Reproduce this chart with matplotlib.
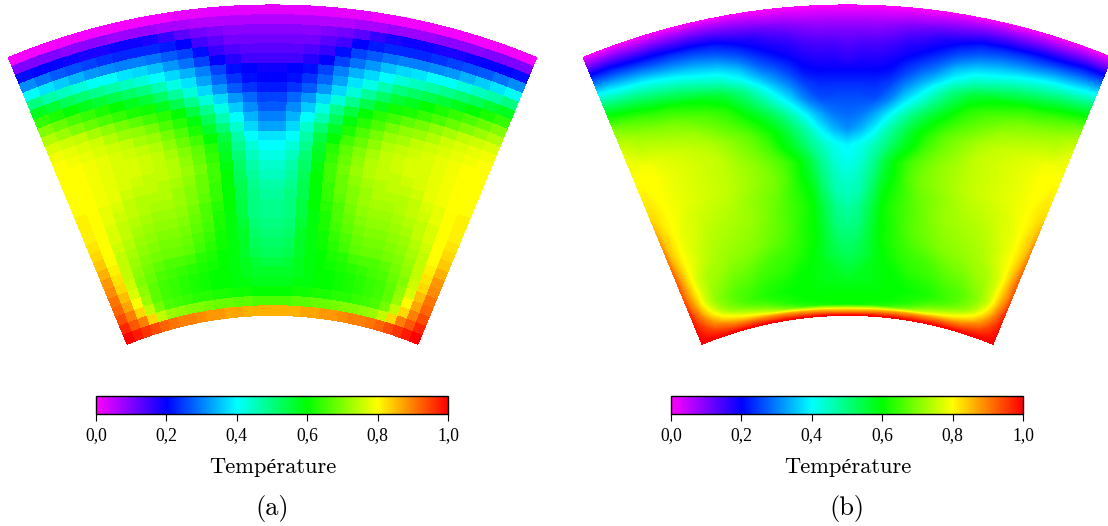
import numpy as np
import matplotlib
matplotlib.use("Agg")
import matplotlib.pyplot as plt
from matplotlib.cm import ScalarMappable
from matplotlib.colors import LinearSegmentedColormap, Normalize

# Colormap anchors
cmap_values = [0.0, 0.2, 0.4, 0.6, 0.8, 1.0]
cmap_colors = ["#ff00ff", "#0000ff", "#00ffff", "#00ff00", "#ffff00", "#ff0000"]

tick_values = [0.0, 0.2, 0.4, 0.6, 0.8, 1.0]
tick_labels = ["0,0", "0,2", "0,4", "0,6", "0,8", "1,0"]
bar_label = "Température"
panel_labels = ["(a)", "(b)"]

# Coarse field (a): one row per radial cell from the outer wall,
# one column per angular cell from the side wall to the symmetry line
coarse_half = [
    [.01, .01, .01, .01, .01, .01, .01, .01, .01, .01, .02, .02, .02, .02, .02, .02],
    [.10, .10, .10, .09, .09, .09, .08, .08, .08, .07, .07, .06, .06, .06, .06, .06],
    [.21, .20, .20, .19, .18, .18, .19, .19, .18, .16, .13, .11, .10, .09, .09, .09],
    [.31, .29, .27, .26, .25, .24, .23, .23, .23, .22, .20, .15, .13, .11, .11, .11],
    [.41, .38, .36, .34, .32, .31, .30, .30, .29, .27, .25, .21, .16, .14, .13, .13],
    [.50, .47, .45, .43, .41, .40, .38, .37, .35, .32, .29, .25, .20, .17, .15, .15],
    [.58, .56, .53, .51, .49, .47, .45, .43, .40, .37, .34, .30, .25, .21, .20, .19],
    [.64, .62, .60, .58, .56, .54, .52, .50, .46, .42, .38, .33, .28, .24, .21, .20],
    [.70, .68, .66, .64, .62, .60, .58, .56, .52, .48, .43, .37, .32, .27, .24, .22],
    [.74, .72, .70, .68, .66, .64, .62, .61, .58, .54, .49, .43, .37, .32, .28, .25],
    [.77, .76, .75, .73, .71, .69, .67, .65, .63, .60, .55, .49, .42, .36, .31, .27],
    [.79, .78, .77, .76, .74, .72, .71, .69, .66, .63, .59, .53, .46, .40, .34, .30],
    [.80, .79, .78, .77, .76, .75, .73, .72, .69, .66, .62, .57, .51, .44, .37, .33],
    [.80, .80, .79, .78, .77, .76, .75, .74, .71, .68, .65, .60, .55, .47, .40, .38],
    [.80, .80, .79, .78, .77, .77, .76, .75, .73, .70, .67, .63, .57, .49, .43, .40],
    [.80, .80, .79, .78, .77, .77, .76, .75, .74, .71, .68, .64, .58, .51, .45, .42],
    [.80, .80, .79, .78, .77, .76, .75, .75, .74, .72, .69, .65, .59, .52, .47, .44],
    [.80, .80, .79, .78, .76, .75, .75, .74, .73, .71, .68, .65, .60, .53, .48, .45],
    [.81, .80, .78, .77, .75, .74, .74, .74, .72, .70, .68, .64, .60, .54, .49, .47],
    [.81, .80, .78, .76, .75, .74, .73, .73, .72, .70, .67, .64, .60, .54, .50, .48],
    [.81, .80, .77, .75, .74, .73, .72, .72, .71, .69, .66, .63, .60, .55, .50, .49],
    [.82, .80, .77, .75, .73, .72, .71, .71, .70, .68, .66, .62, .59, .55, .50, .49],
    [.83, .80, .76, .74, .72, .71, .70, .70, .69, .67, .65, .62, .59, .56, .51, .50],
    [.84, .80, .75, .73, .71, .70, .69, .69, .68, .66, .64, .61, .59, .57, .52, .51],
    [.86, .81, .75, .72, .70, .69, .68, .68, .67, .65, .63, .61, .59, .57, .53, .52],
    [.88, .82, .75, .71, .69, .67, .66, .66, .65, .63, .62, .60, .59, .57, .54, .53],
    [.89, .83, .76, .70, .68, .66, .65, .64, .63, .62, .61, .60, .59, .58, .56, .55],
    [.91, .85, .77, .71, .67, .65, .64, .63, .62, .61, .60, .60, .59, .58, .57, .57],
    [.92, .87, .80, .72, .67, .65, .64, .63, .62, .61, .60, .60, .59, .59, .58, .58],
    [.94, .90, .83, .75, .69, .66, .65, .64, .63, .63, .62, .62, .61, .61, .60, .60],
    [.97, .93, .90, .83, .75, .72, .71, .70, .70, .69, .68, .68, .67, .67, .66, .66],
    [1.0, .98, .96, .94, .92, .91, .90, .90, .89, .88, .88, .87, .87, .86, .86, .86],
]

# Fine field (b): sampled on the radial and angular stations below
fine_radial = [0, .03, .06, .09, .12, .15, .18, .21, .25, .30, .35, .40, .45, .50, .55, .60,
               .65, .70, .75, .80, .84, .88, .91, .93, .95, .965, .98, .99, 1.0]
fine_angular = [0, .02, .05, .08, .12, .18, .25, .32, .40, .48, .56, .64, .70, .76, .82, .88, .94, 1.0]
fine_half = [
    [0, 0, 0, 0, 0, 0, 0, 0, 0, 0, 0, 0, 0, 0, 0, 0, 0, 0],
    [.09, .09, .09, .09, .09, .08, .08, .08, .08, .08, .07, .06, .05, .05, .04, .04, .04, .04],
    [.19, .19, .19, .19, .18, .17, .17, .16, .16, .15, .13, .12, .11, .10, .09, .08, .08, .08],
    [.28, .28, .27, .27, .26, .25, .24, .24, .23, .22, .19, .17, .15, .14, .12, .11, .11, .11],
    [.37, .36, .36, .35, .34, .33, .31, .30, .29, .27, .24, .20, .18, .17, .15, .14, .14, .13],
    [.46, .45, .44, .43, .42, .41, .39, .37, .35, .33, .29, .24, .21, .19, .17, .16, .16, .15],
    [.54, .53, .52, .51, .50, .48, .46, .44, .41, .39, .35, .28, .25, .22, .19, .18, .18, .17],
    [.61, .60, .59, .58, .57, .55, .53, .51, .48, .45, .40, .33, .29, .25, .21, .20, .20, .20],
    [.69, .68, .67, .66, .65, .63, .62, .60, .58, .55, .49, .41, .35, .30, .25, .23, .23, .23],
    [.74, .74, .73, .72, .71, .70, .69, .67, .65, .62, .56, .49, .43, .37, .30, .26, .26, .26],
    [.78, .77, .76, .75, .75, .74, .73, .72, .69, .66, .62, .57, .52, .46, .39, .33, .29, .28],
    [.79, .79, .79, .79, .78, .77, .76, .75, .73, .70, .67, .62, .58, .52, .46, .39, .34, .31],
    [.80, .80, .80, .80, .79, .78, .77, .76, .75, .72, .69, .65, .60, .56, .50, .45, .41, .39],
    [.81, .81, .80, .80, .79, .78, .77, .76, .75, .73, .71, .68, .65, .61, .55, .48, .43, .41],
    [.82, .82, .81, .80, .79, .78, .77, .76, .75, .73, .71, .69, .66, .61, .57, .50, .45, .43],
    [.85, .83, .81, .80, .79, .77, .76, .75, .74, .72, .70, .68, .65, .62, .59, .52, .46, .45],
    [.875, .84, .82, .80, .78, .77, .75, .74, .73, .72, .70, .67, .65, .63, .60, .54, .49, .47],
    [.89, .85, .82, .80, .78, .76, .74, .73, .72, .71, .69, .67, .65, .62, .60, .55, .50, .49],
    [.91, .87, .83, .80, .78, .75, .73, .72, .71, .70, .68, .66, .64, .62, .60, .56, .52, .51],
    [.925, .89, .84, .80, .76, .73, .72, .70, .69, .67, .65, .64, .63, .61, .59, .56, .54, .53],
    [.93, .89, .85, .81, .76, .72, .70, .68, .67, .65, .64, .63, .61, .60, .59, .58, .56, .55],
    [.95, .91, .87, .82, .76, .71, .68, .66, .65, .63, .62, .61, .60, .60, .59, .58, .58, .57],
    [.97, .94, .90, .85, .80, .73, .69, .66, .64, .62, .61, .60, .60, .60, .59, .59, .59, .59],
    [.98, .95, .92, .89, .84, .78, .72, .69, .66, .64, .62, .61, .60, .60, .60, .60, .60, .60],
    [.985, .97, .95, .92, .89, .84, .80, .76, .72, .69, .65, .62, .61, .60, .60, .60, .60, .60],
    [.99, .98, .96, .95, .92, .90, .86, .83, .80, .76, .72, .68, .65, .63, .62, .61, .60, .60],
    [.995, .99, .98, .97, .96, .94, .92, .91, .90, .89, .88, .87, .86, .85, .84, .83, .82, .82],
    [1.0, 1.0, .99, .99, .98, .97, .96, .95, .95, .94, .94, .93, .93, .92, .92, .91, .90, .90],
    [1.0, 1.0, 1.0, 1.0, 1.0, 1.0, 1.0, 1.0, 1.0, 1.0, 1.0, 1.0, 1.0, 1.0, 1.0, 1.0, 1.0, 1.0],
]

# Geometry of the sectors in pixels
R_OUT = 690.5
R_IN = 380.0
CENTER_Y = 695.4
CENTERS_X = [272.5, 847.5]
HALF_ANGLE = np.radians(22.5)

W, H = 1108, 526


def sector_xy(center_x, eta, xi):
    # eta: 0 outer wall, 1 inner wall / xi: -1 left wall, 1 right wall
    r = R_OUT - (R_OUT - R_IN) * eta
    t = HALF_ANGLE * xi
    xx, rr = np.meshgrid(t, r)
    return center_x + rr * np.sin(xx), CENTER_Y - rr * np.cos(xx)


cmap = LinearSegmentedColormap.from_list("rainbow_t", list(zip(cmap_values, cmap_colors)), N=512)
norm = Normalize(0, 1)

fig = plt.figure(figsize=(W / 100, H / 100), dpi=100)
ax = fig.add_axes([0, 0, 1, 1])
ax.set_xlim(0, W)
ax.set_ylim(H, 0)
ax.axis("off")

# (a) cell values
coarse = np.array(coarse_half)
coarse = np.hstack([coarse, coarse[:, ::-1]])
eta_edges = np.linspace(0, 1, coarse.shape[0] + 1)
xi_edges = np.linspace(-1, 1, coarse.shape[1] + 1)
x, y = sector_xy(CENTERS_X[0], eta_edges, xi_edges)
mesh = ax.pcolormesh(x, y, coarse, cmap=cmap, norm=norm, shading="flat",
                     edgecolors="none", linewidth=0, antialiased=False)
mesh.set_snap(False)

# (b) smooth field
fine = np.array(fine_half)
fine = np.hstack([fine, fine[:, -2::-1]])
xi_fine = np.array(fine_angular) - 1
xi_fine = np.concatenate([xi_fine, -xi_fine[-2::-1]])
x, y = sector_xy(CENTERS_X[1], np.array(fine_radial), xi_fine)
ax.contourf(x, y, fine, levels=np.linspace(0, 1, 257), cmap=cmap, norm=norm,
            extend="both", antialiased=False)

# Colour bars and labels
for left, cx, panel in zip([96, 671], CENTERS_X, panel_labels):
    cax = fig.add_axes([left / W, 1 - 414 / H, 352 / W, 18 / H])
    cb = fig.colorbar(ScalarMappable(norm=norm, cmap=cmap), cax=cax, orientation="horizontal")
    cb.set_ticks(tick_values, labels=tick_labels)
    cb.outline.set_linewidth(1.0)
    cax.tick_params(length=5, width=0.8, pad=4.5, labelsize=12.7)
    for lab in cax.get_xticklabels():
        lab.set_family("Liberation Serif")
    ax.text(cx, 467, bar_label, ha="center", va="center", fontsize=16.2,
            family=["cmr10", "Liberation Serif"])
    ax.text(cx - 0.5, 508, panel, ha="center", va="center", fontsize=19, family="cmr10")

fig.savefig("out.png", dpi=100)
